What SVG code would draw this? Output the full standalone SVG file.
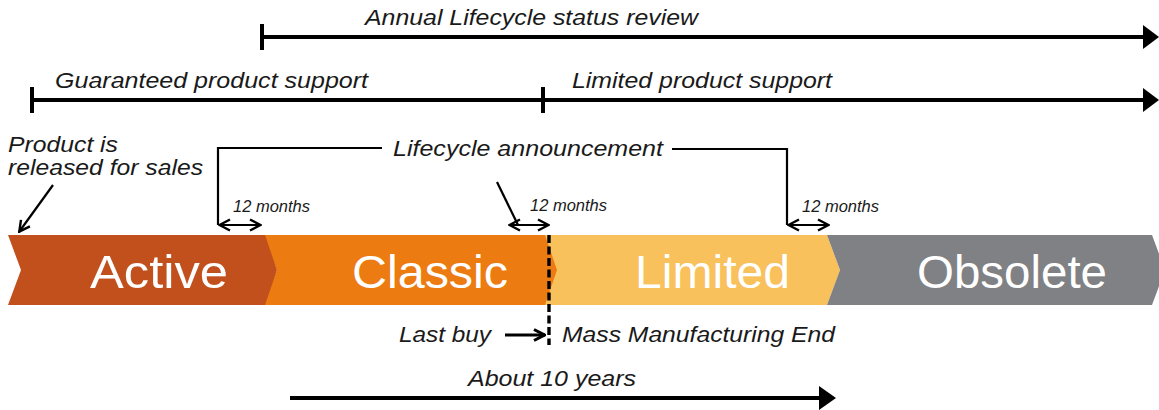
<svg xmlns="http://www.w3.org/2000/svg" width="1159" height="410" viewBox="0 0 1159 410">
  <defs>
    <style>
      .lbl { font-family: "Liberation Sans", Arial, sans-serif; font-style: italic; font-size: 22px; fill: #1a1a1a; }
      .small { font-family: "Liberation Sans", Arial, sans-serif; font-style: italic; font-size: 16px; fill: #1a1a1a; }
      .phase { font-family: "Liberation Sans", Arial, sans-serif; font-size: 46px; fill: #ffffff; }
      .thick { stroke: #000; stroke-width: 4; fill: none; }
      .thin { stroke: #000; stroke-width: 2.2; fill: none; }
      .head { fill: #000; }
    </style>
    <marker id="open" viewBox="0 0 14 14" refX="13" refY="7" markerWidth="14" markerHeight="14" markerUnits="userSpaceOnUse" orient="auto-start-reverse">
      <path d="M2,1.5 L12.5,7 L2,12.5" fill="none" stroke="#000" stroke-width="2.4"/>
    </marker>
    <marker id="open3" viewBox="0 0 14 14" refX="13" refY="7" markerWidth="14" markerHeight="14" markerUnits="userSpaceOnUse" orient="auto">
      <path d="M2,1.5 L12.5,7 L2,12.5" fill="none" stroke="#000" stroke-width="3"/>
    </marker>
  </defs>
  <rect width="1159" height="410" fill="#ffffff"/>

  <!-- Phase chevrons -->
  <g id="limited">
    <polygon points="545,235 827,235 840,270 827,305 545,305" fill="#F9C15C"/>
    <text class="phase" x="635" y="288" textLength="155" lengthAdjust="spacingAndGlyphs">Limited</text>
  </g>
  <g id="classic">
    <polygon points="263,235 545,235 557,270 545,305 263,305 277,270" fill="#EC7B12"/>
    <text class="phase" x="352" y="288" textLength="156" lengthAdjust="spacingAndGlyphs">Classic</text>
  </g>
  <g id="active">
    <polygon points="8,235 265,235 277,270 265,305 8,305 21,270" fill="#C1501D"/>
    <text class="phase" x="90" y="288" textLength="138" lengthAdjust="spacingAndGlyphs">Active</text>
  </g>
  <g id="obsolete">
    <polygon points="827,235 1152,235 1165,270 1152,305 827,305 840,270" fill="#808184"/>
    <text class="phase" x="917" y="288" textLength="190" lengthAdjust="spacingAndGlyphs">Obsolete</text>
  </g>

  <!-- Timeline bars and labels -->
  <g id="annual-review">
    <text class="lbl" x="365" y="25" textLength="333" lengthAdjust="spacingAndGlyphs">Annual Lifecycle status review</text>
  </g>
  <g id="guaranteed-support">
    <text class="lbl" x="55" y="88" textLength="313" lengthAdjust="spacingAndGlyphs">Guaranteed product support</text>
  </g>
  <g id="limited-support">
    <text class="lbl" x="572" y="88" textLength="260" lengthAdjust="spacingAndGlyphs">Limited product support</text>
  </g>
  <g id="released">
    <text class="lbl" x="8" y="152" textLength="110" lengthAdjust="spacingAndGlyphs">Product is</text>
    <text class="lbl" x="8" y="175" textLength="195" lengthAdjust="spacingAndGlyphs">released for sales</text>
  </g>
  <g id="announcement">
    <text class="lbl" x="393" y="156" textLength="270" lengthAdjust="spacingAndGlyphs">Lifecycle announcement</text>
  </g>
  <g id="months">
    <text class="small" x="233" y="212" textLength="77" lengthAdjust="spacingAndGlyphs">12 months</text>
    <text class="small" x="530" y="211" textLength="77" lengthAdjust="spacingAndGlyphs">12 months</text>
    <text class="small" x="802" y="212" textLength="77" lengthAdjust="spacingAndGlyphs">12 months</text>
  </g>
  <g id="last-buy">
    <text class="lbl" x="399" y="342" textLength="92" lengthAdjust="spacingAndGlyphs">Last buy</text>
  </g>
  <g id="mass-end">
    <text class="lbl" x="562" y="342" textLength="273" lengthAdjust="spacingAndGlyphs">Mass Manufacturing End</text>
  </g>
  <g id="ten-years">
    <text class="lbl" x="468" y="386" textLength="168" lengthAdjust="spacingAndGlyphs">About 10 years</text>
  </g>

  <!-- Connectors -->
  <g id="connectors">
    <!-- Annual review bar -->
    <line class="thick" x1="262" y1="24" x2="262" y2="50"/>
    <line class="thick" x1="262" y1="37" x2="1146" y2="37"/>
    <polygon class="head" points="1143,25 1159,37 1143,49"/>
    <!-- Product support bar -->
    <line class="thick" x1="32" y1="87" x2="32" y2="113"/>
    <line class="thick" x1="543" y1="87" x2="543" y2="113"/>
    <line class="thick" x1="32" y1="100" x2="1146" y2="100"/>
    <polygon class="head" points="1143,88 1159,100 1143,112"/>
    <!-- About 10 years -->
    <line class="thick" x1="290" y1="398" x2="823" y2="398"/>
    <polygon class="head" points="819,386 836,398 819,410"/>
    <!-- Product released arrow -->
    <line class="thin" x1="53" y1="185" x2="19" y2="232" marker-end="url(#open)"/>
    <!-- Lifecycle announcement brackets -->
    <polyline class="thin" points="218,225 218,148 382,148"/>
    <polyline class="thin" points="672,149 787,149 787,225"/>
    <line class="thin" x1="497" y1="182" x2="518" y2="225"/>
    <!-- 12 month double arrows -->
    <line class="thin" x1="219" y1="225" x2="261" y2="225" marker-start="url(#open)" marker-end="url(#open)"/>
    <line class="thin" x1="509" y1="225" x2="549" y2="225" marker-start="url(#open)" marker-end="url(#open)"/>
    <line class="thin" x1="788" y1="225" x2="829" y2="225" marker-start="url(#open)" marker-end="url(#open)"/>
    <!-- Mass manufacturing end dashed line -->
    <line x1="549" y1="235" x2="549" y2="345" stroke="#000" stroke-width="3.4" stroke-dasharray="8,3.5"/>
    <!-- Last buy arrow -->
    <line x1="505" y1="335" x2="545" y2="335" stroke="#000" stroke-width="3" marker-end="url(#open3)"/>
  </g>
</svg>
